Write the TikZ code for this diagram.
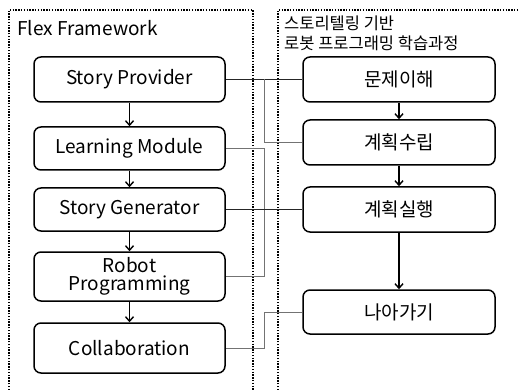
\documentclass[tikz,border=0pt]{standalone}
\usepackage{fontspec}
\setmainfont{Noto Sans CJK KR}
\usetikzlibrary{arrows.meta}
\begin{document}
\begin{tikzpicture}[x=1pt,y=-1pt,
  box/.style={draw,line width=1.5pt,rounded corners=7pt,minimum width=191pt,inner sep=0pt,align=center,font=\fontsize{19}{18}\selectfont},
  title/.style={inner sep=0pt,align=left,font=\fontsize{16.5}{19.5}\selectfont},
  frame/.style={line width=1.3pt,dash pattern=on 1.4pt off 1.4pt},
  flow/.style={line width=1.4pt,-{Straight Barb[length=4.5pt,width=8pt]}},
  link/.style={line width=0.9pt,black!85},
  sublink/.style={line width=0.9pt,black!55}]
\useasboundingbox (0,0) rectangle (519,390);
% dotted frames, open at the bottom
\draw[frame] (9,390) -- (9,10) -- (253,10) -- (253,390);
\draw[frame] (278,390) -- (278,10) -- (519,10);
\node[title,anchor=base west,font=\fontsize{19}{19}\selectfont] (fw) at (17,36) {Flex Framework};
\node[title,anchor=north west] (course) at (284,16) {스토리텔링 기반\\로봇 프로그래밍 학습과정};
% framework modules
\node[box,minimum height=45pt] (sp) at (129.5,79.5) {Story Provider};
\node[box,minimum height=43pt] (lm) at (129.5,148.5) {Learning Module};
\node[box,minimum height=43pt] (sg) at (129.5,209.5) {Story Generator};
\node[box,minimum height=49pt] (rp) at (129.5,276.5) {Robot\\Programming};
\node[box,minimum height=50pt] (co) at (129.5,348) {Collaboration};
% learning steps
\node[box,minimum width=192pt,minimum height=45pt] (und) at (399,79.5) {문제이해};
\node[box,minimum width=192pt,minimum height=45pt] (plan) at (399,142.5) {계획수립};
\node[box,minimum width=192pt,minimum height=45pt] (exe) at (399,209.5) {계획실행};
\node[box,minimum width=192pt,minimum height=44pt] (next) at (399,312) {나아가기};
\foreach \a/\b in {sp/lm,lm/sg,sg/rp,rp/co,und/plan,plan/exe,exe/next}
  \draw[flow] (\a.south) -- (\b.north);
% links between the two columns
\coordinate (bus) at (264.5,0);
\draw[link] (sp.east) -- (und.west);
\draw[sublink] (sp.east -| bus) |- (plan.west);
\draw[sublink] (lm.east) -- (lm.east -| bus) |- (rp.east);
\draw[link] (sg.east) -- (exe.west);
\draw[sublink] (co.east) -- (co.east -| bus) |- (next.west);
\end{tikzpicture}
\end{document}
